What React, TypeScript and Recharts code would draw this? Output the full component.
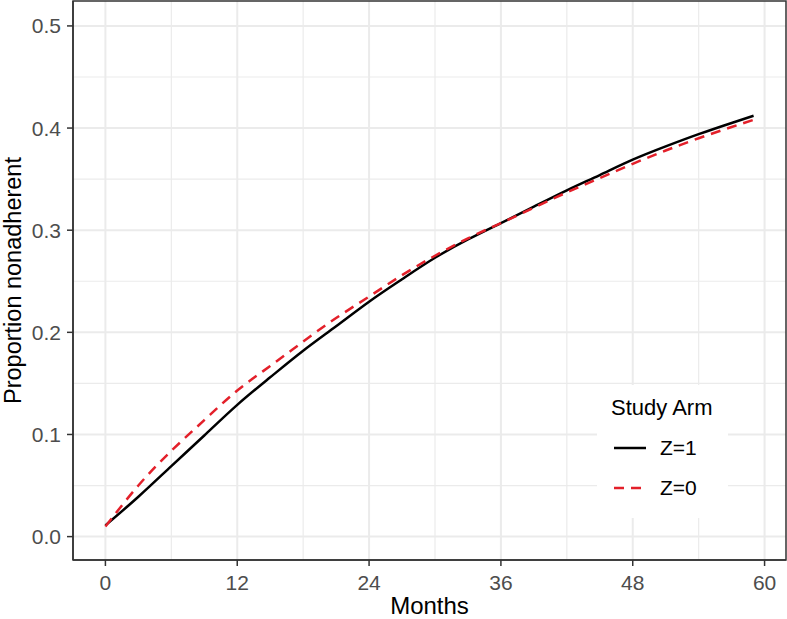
import {
  LineChart, Line, XAxis, YAxis, CartesianGrid, Legend, ReferenceArea,
} from 'recharts';

// ─── Data ──────────────────────────────────────────────────────────────────────
const MONTHS = [0, 3, 6, 9, 12, 15, 18, 21, 24, 27, 30, 33, 36, 39, 42, 45, 48, 51, 54, 57, 59];
const Z1 = [0.011, 0.039, 0.069, 0.099, 0.129, 0.156, 0.182, 0.206, 0.230, 0.252, 0.273, 0.291, 0.307, 0.323, 0.339, 0.354, 0.369, 0.382, 0.394, 0.405, 0.412];
const Z0 = [0.010, 0.050, 0.084, 0.114, 0.143, 0.167, 0.191, 0.214, 0.235, 0.256, 0.275, 0.292, 0.307, 0.322, 0.337, 0.351, 0.365, 0.378, 0.390, 0.401, 0.408];

const X_TICKS = [0, 12, 24, 36, 48, 60];
const X_MINOR = [6, 18, 30, 42, 54];
const Y_TICKS = [0, 0.1, 0.2, 0.3, 0.4, 0.5];
const Y_MINOR = [0.05, 0.15, 0.25, 0.35, 0.45];
const X_DOMAIN = [-2.95, 61.95];
const Y_DOMAIN = [-0.0229, 0.5244];

const SERIES = [
  { key: 'z1', name: 'Z=1', color: '#000000', dash: undefined as string | undefined },
  { key: 'z0', name: 'Z=0', color: '#E3202A', dash: '10 7' },
];

const data = MONTHS.map((m, i) => ({ month: m, z1: Z1[i], z0: Z0[i] }));

// ─── Style tokens ──────────────────────────────────────────────────────────────
const FONT = '"Liberation Sans", Arial, Helvetica, sans-serif';
const GRID = '#EBEBEB';
const BORDER = '#333333';
const TICK_TXT = '#4D4D4D';

if (typeof document !== 'undefined') document.body.style.margin = '0';

function LegendBox() {
  return (
    <div style={{
      width: 131, height: 133, background: '#fff', fontFamily: FONT,
      boxSizing: 'border-box', paddingLeft: 14, paddingTop: 9,
    }}>
      <div style={{ fontSize: 22, color: '#000', lineHeight: '28px' }}>Study Arm</div>
      {SERIES.map((s, i) => (
        <div key={s.key} style={{ display: 'flex', alignItems: 'center', height: 40, marginTop: i === 0 ? 6 : 0 }}>
          <svg width={49} height={20} style={{ display: 'block' }}>
            <line x1={3} x2={35} y1={10} y2={10} stroke={s.color} strokeWidth={2.5} strokeDasharray={s.dash} />
          </svg>
          <span style={{ fontSize: 21, color: '#000' }}>{s.name}</span>
        </div>
      ))}
    </div>
  );
}

export default function App() {
  return (
    <div style={{ width: 787, height: 619, background: '#fff' }}>
      <LineChart
        width={787}
        height={619}
        data={data}
        margin={{ top: 1, right: 1, left: 0, bottom: 0 }}
        style={{ fontFamily: FONT }}
      >
        <CartesianGrid stroke={GRID} strokeWidth={1.2} verticalValues={X_MINOR} horizontalValues={Y_MINOR} />
        <CartesianGrid stroke={GRID} strokeWidth={2} verticalValues={X_TICKS} horizontalValues={Y_TICKS} />
        <XAxis
          dataKey="month"
          type="number"
          domain={X_DOMAIN}
          ticks={X_TICKS}
          allowDataOverflow
          height={59}
          tickSize={6}
          tickMargin={9}
          tick={{ fontSize: 21, fill: TICK_TXT }}
          tickLine={{ stroke: BORDER, strokeWidth: 1.5 }}
          axisLine={{ stroke: BORDER, strokeWidth: 1.5 }}
          label={{
            content: ({ viewBox }: any) => (
              <text x={viewBox.x + viewBox.width / 2} y={614} textAnchor="middle" fontSize={24} fill="#000">
                Months
              </text>
            ),
          }}
        />
        <YAxis
          type="number"
          domain={Y_DOMAIN}
          ticks={Y_TICKS}
          allowDataOverflow
          width={73}
          tickSize={6}
          tickMargin={6}
          tickFormatter={(v: number) => v.toFixed(1)}
          tick={{ fontSize: 21, fill: TICK_TXT }}
          tickLine={{ stroke: BORDER, strokeWidth: 1.5 }}
          axisLine={{ stroke: BORDER, strokeWidth: 1.5 }}
          label={{
            content: ({ viewBox }: any) => {
              const cy = viewBox.y + viewBox.height / 2;
              return (
                <text x={21} y={cy} transform={`rotate(-90 21 ${cy})`} textAnchor="middle" fontSize={23.5} fill="#000">
                  Proportion nonadherent
                </text>
              );
            },
          }}
        />
        {SERIES.map(s => (
          <Line
            key={s.key}
            dataKey={s.key}
            name={s.name}
            type="natural"
            stroke={s.color}
            strokeWidth={2.5}
            strokeDasharray={s.dash}
            dot={false}
            activeDot={false}
            isAnimationActive={false}
          />
        ))}
        <ReferenceArea
          x1={X_DOMAIN[0]}
          x2={X_DOMAIN[1]}
          y1={Y_DOMAIN[0]}
          y2={Y_DOMAIN[1]}
          fill="none"
          fillOpacity={0}
          stroke={BORDER}
          strokeWidth={1.5}
          ifOverflow="visible"
        />
        <Legend
          layout="horizontal"
          verticalAlign="middle"
          align="center"
          content={() => <LegendBox />}
          wrapperStyle={{ left: 597, top: 385, width: 131, height: 133 }}
        />
      </LineChart>
    </div>
  );
}
